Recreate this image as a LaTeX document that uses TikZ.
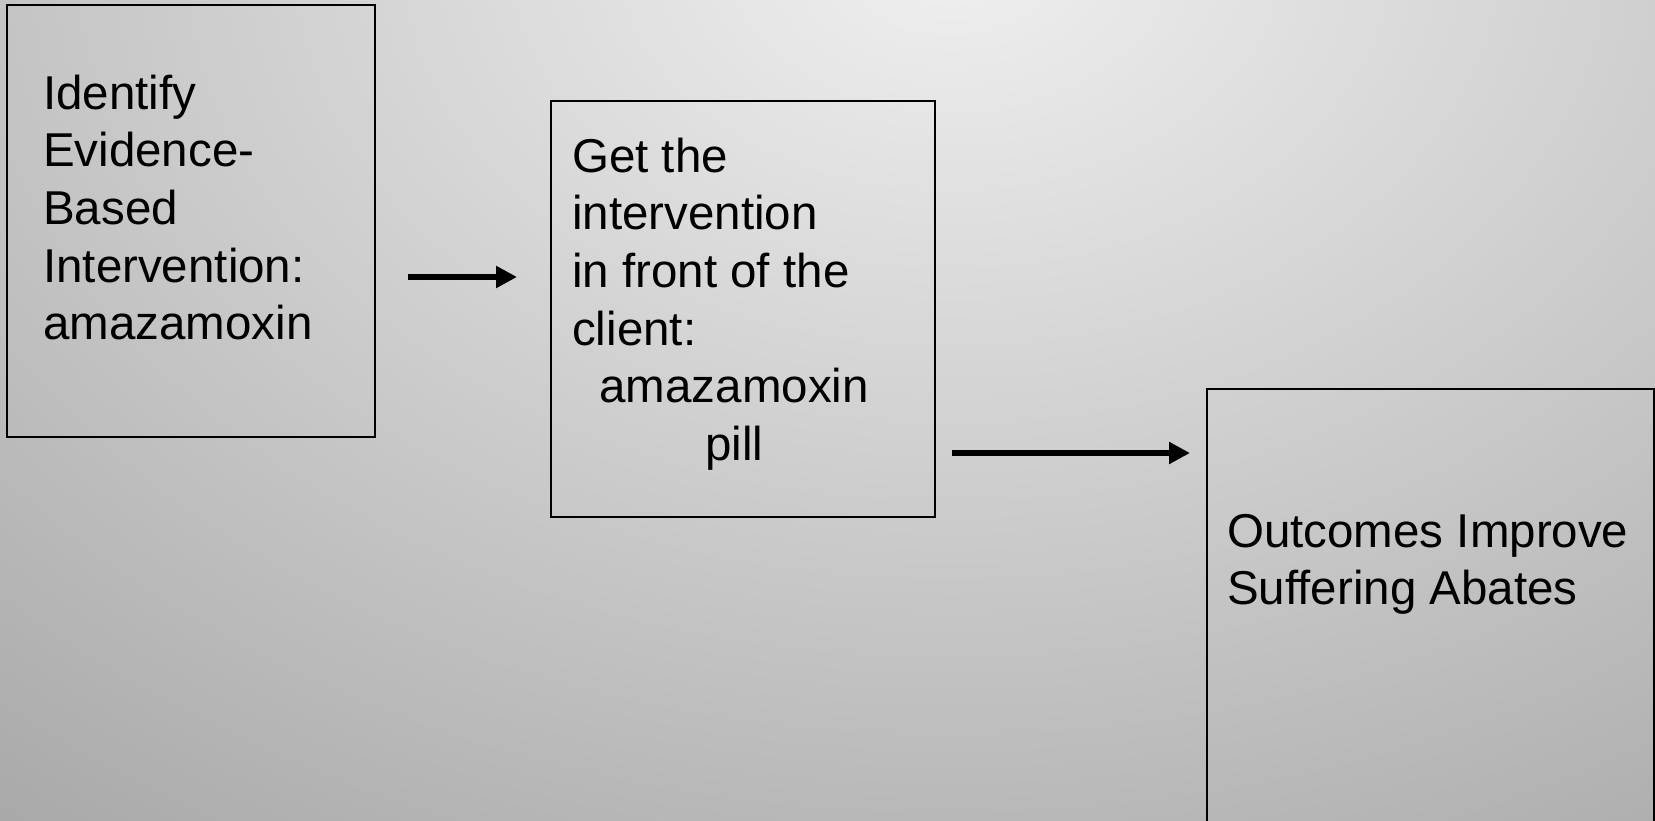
\documentclass[tikz,border=0pt]{standalone}
\usepackage{fontspec}
\setmainfont{Liberation Sans}
\usetikzlibrary{arrows.meta}
\definecolor{bgin}{HTML}{F0F0F0}
\definecolor{bgout}{HTML}{A6A6A6}
\pgfdeclareradialshading{bgshade}{\pgfpoint{0bp}{0bp}}{color(0bp)=(bgin); color(25bp)=(bgout); color(50bp)=(bgout)}
\tikzset{
  stagebox/.style={draw=black, line width=2pt, inner sep=0pt, fill=none},
  stagetext/.style={anchor=base west, inner sep=0pt, text=black,
    font=\fontsize{47.5pt}{57.7pt}\selectfont},
  flowarrow/.style={line width=6.5pt, -{Triangle[length=21pt,width=21pt]}}
}
\begin{document}
\begin{tikzpicture}[x=1pt,y=-1pt]
\useasboundingbox (0,0) rectangle (1655,820);
\begin{scope}
  \clip (0,0) rectangle (1655,820);
  \fill[shading=bgshade] (950,-50) ellipse [x radius=1600pt, y radius=1150pt];
  \node[stagebox, minimum width=368pt, minimum height=432pt] (b1) at (191,221) {};
  \node[stagebox, minimum width=384pt, minimum height=416pt] (b2) at (743,309) {};
  \node[stagebox, minimum width=447pt, minimum height=461pt] (b3) at (1430.5,619.5) {};
  \node[stagetext] (t1) at (43,109) {\vtop{\hbox{Identify}\hbox{Evidence-}\hbox{Based}\hbox{Intervention:}\hbox{amazamoxin}}};
  \node[stagetext] (t2) at (572,172) {\vtop{\hbox{Get the}\hbox{intervention}\hbox{in front of the}\hbox{client:}\hbox to 324pt{\hss amazamoxin\hss}\hbox to 324pt{\hss pill\hss}}};
  \node[stagetext] (t3) at (1227,547) {\vtop{\hbox{Outcomes Improve}\hbox{Suffering Abates}}};
  \draw[flowarrow, shorten <=32pt, shorten >=33pt] ([yshift=-56pt]b1.east) -- ([yshift=-56pt]b1.east -| b2.west);
  \draw[flowarrow, shorten <=16pt, shorten >=16pt] ([yshift=-144pt]b2.east) -- ([yshift=-144pt]b2.east -| b3.west);
\end{scope}
\end{tikzpicture}
\end{document}
